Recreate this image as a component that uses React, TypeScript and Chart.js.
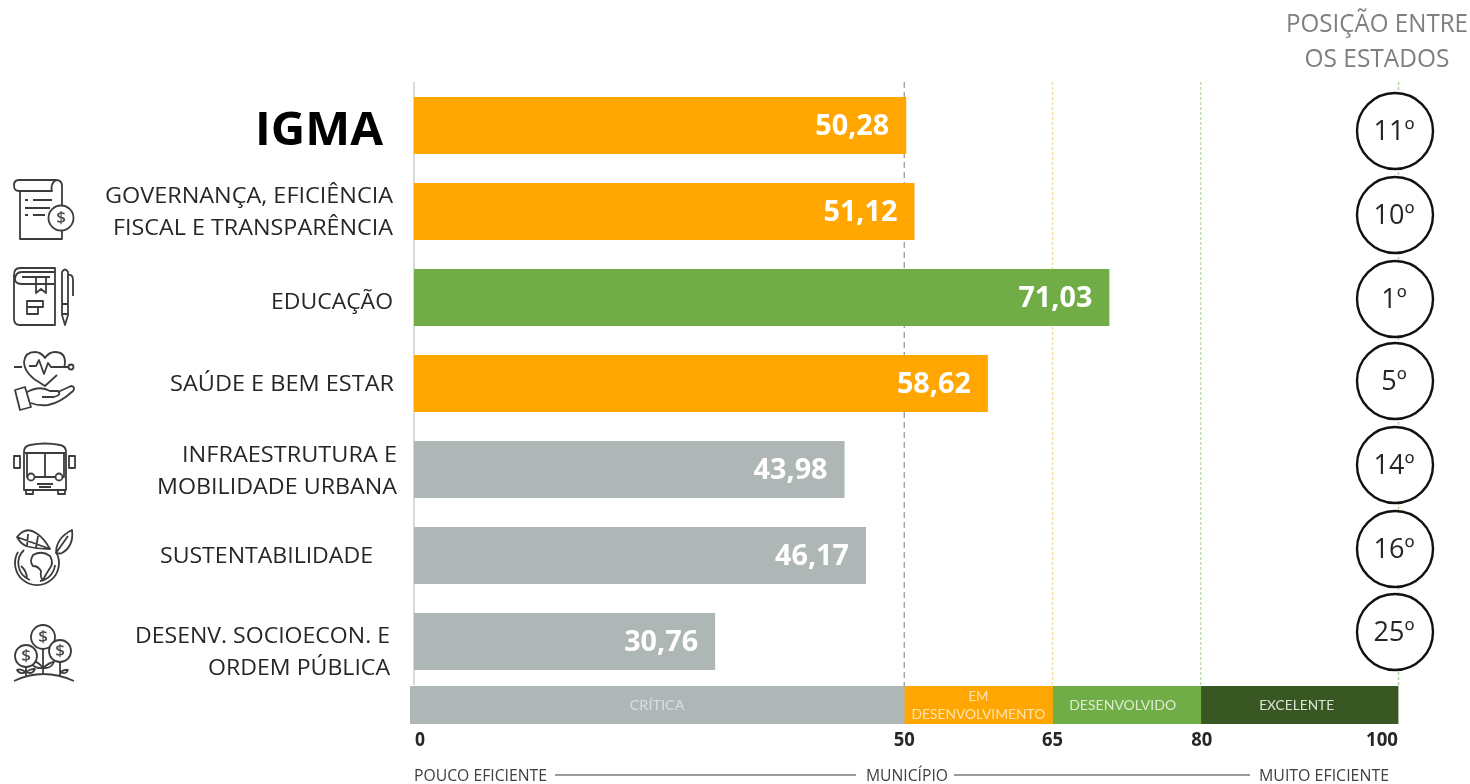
import React, { useEffect, useRef } from "react";
import { Chart, registerables } from "chart.js";

Chart.register(...registerables);

// ---------- data ----------
const categories = [
  "IGMA",
  "GOVERNANÇA, EFICIÊNCIA FISCAL E TRANSPARÊNCIA",
  "EDUCAÇÃO",
  "SAÚDE E BEM ESTAR",
  "INFRAESTRUTURA E MOBILIDADE URBANA",
  "SUSTENTABILIDADE",
  "DESENV. SOCIOECON. E ORDEM PÚBLICA",
];
const scores = [50.28, 51.12, 71.03, 58.62, 43.98, 46.17, 30.76];
const ranks = ["11º", "10º", "1º", "5º", "14º", "16º", "25º"];
const bandNames = ["CRÍTICA", "EM DESENVOLVIMENTO", "DESENVOLVIDO", "EXCELENTE"];
const bandWidths = [50, 15, 15, 20];
const scaleTicks = [0, 50, 65, 80, 100];

// ---------- styles ----------
const ORANGE = "#FFA700";
const GREEN = "#70AD47";
const GREY = "#AFB6B6";
const DARK = "#385723";
const bandColors = [GREY, ORANGE, GREEN, DARK];
const barColor = (v: number) => (v < 50 ? GREY : v < 65 ? ORANGE : v < 80 ? GREEN : DARK);
const gridColors: Record<number, string> = { 50: "#8f9494", 65: "#ecdf9a", 80: "#bcdcae", 100: "#a9d39a" };
const FONT = '"Open Sans", sans-serif';

// label lines, each [text, right edge, vertical centre, target width]
const labelLines: [string, number, number, number][] = [
  ["GOVERNANÇA, EFICIÊNCIA", 393, 196, 288],
  ["FISCAL E TRANSPARÊNCIA", 393, 228, 280],
  ["EDUCAÇÃO", 393, 302, 122],
  ["SAÚDE E BEM ESTAR", 394, 384, 224],
  ["INFRAESTRUTURA E", 397, 455, 215],
  ["MOBILIDADE URBANA", 397, 487, 240],
  ["SUSTENTABILIDADE", 373, 556, 213],
  ["DESENV. SOCIOECON. E", 390, 636, 255],
  ["ORDEM PÚBLICA", 390, 668, 182],
];
const rankCentres = [131, 215, 299, 381, 465, 549, 632];

function fitText(
  ctx: CanvasRenderingContext2D,
  text: string,
  x: number,
  y: number,
  align: "left" | "right" | "center",
  width: number,
  font: string,
  color: string
) {
  ctx.save();
  ctx.font = font;
  ctx.fillStyle = color;
  ctx.textBaseline = "middle";
  ctx.textAlign = "left";
  const w = ctx.measureText(text).width;
  const sx = width / w;
  const left = align === "left" ? x : align === "right" ? x - width : x - width / 2;
  ctx.translate(left, y + 2);
  ctx.scale(sx, 1);
  ctx.fillText(text, 0, 0);
  ctx.restore();
}

const iconPaths = [
  // scroll with coin
  "M20 191V239H62V231M62 205V186Q62 180 56 180H19Q14 180 14 185.5Q14 191 19 191H52Q50 184 56 180M25 200H28M33 200H52M25 208H50M25 215H28M33 215H45",
  // book and pen
  "M15 280Q15 272 22 272H55V268H20Q14 268 14 275V319Q14 325 20 325H55V272M15 280Q16 284 22 284H55M22 277H50M36 278V293L41 289L46 293V278M27 301H43V307H27ZM27 307V314H38V307M62 272Q65 267 68 272V315L65 325L62 315ZM62 304H68M62 314H68M68 275Q73 274 73 280V296",
  // heart on hand
  "M14 367H22M34 379Q24 371 24 362Q25 352 35 352Q41 352 45 358Q49 352 55 352Q65 352 65 362Q65 365 64 367M57 375L45 386L34 379M29 366H36L39 360L44 374L48 363L51 367H68M15 390L25 387L31 407L20 410ZM27 392Q40 385 50 391H58Q62 395 54 397H42M58 392L71 386Q76 387 73 391Q60 403 48 405Q38 406 31 403",
  // bus
  "M24 490V452Q24 446 30 445Q45 442 60 445Q66 446 66 452V490ZM25 453H65M27 453V477H64V453M45 453V477M14 456H20V468H14ZM69 456H75V468H69ZM26 490V494H33V490M58 490V494H65V490M37 484H53M39 487H51",
  // globe ring, earth and continents
  "M18 552A22 22 0 1 0 56 552M30 580A18 18 0 0 1 24 550M40 581A18 18 0 0 0 55 565M33 555Q42 550 50 556Q54 563 50 568Q46 574 43 580Q40 578 41 571Q38 566 33 566Q29 562 33 555ZM21 566Q27 571 27 579",
  // leaves
  "M17 537Q26 526 36 533Q44 538 50 549Q36 549 26 546Q20 543 17 537ZM17 537L50 549M28 534L27 546M38 536L36 548M56 553Q56 538 72 530Q74 546 62 553Q60 554 56 553ZM56 553L68 536",
  // coin plants
  "M14 681Q43 667 74 681M43 649V675M26 667V678M60 662V676M43 668Q36 659 30 662Q34 669 43 668ZM43 668Q50 662 54 662Q51 669 43 668ZM26 672Q20 668 17 670Q20 675 26 672ZM26 672Q32 668 35 669Q32 675 26 672ZM60 672Q66 669 68 670Q66 675 60 672Z",
];
const iconCircles: [number, number, number][] = [
  [61, 218, 12.5],
  [71, 367, 2.5],
  [31, 477, 3.5],
  [59, 477, 3.5],
  [43, 637, 12],
  [26, 656, 11],
  [60, 651, 11],
];
const dollars: [number, number][] = [[61, 218], [43, 637], [26, 656], [60, 651]];

function drawIcons(ctx: CanvasRenderingContext2D) {
  ctx.save();
  ctx.strokeStyle = "#3c3c3c";
  ctx.lineWidth = 1.8;
  ctx.lineJoin = "round";
  iconPaths.forEach((d) => ctx.stroke(new Path2D(d)));
  iconCircles.forEach(([x, y, r]) => {
    ctx.beginPath();
    ctx.arc(x, y, r, 0, Math.PI * 2);
    ctx.fillStyle = "#fff";
    ctx.fill();
    ctx.stroke();
  });
  ctx.fillStyle = "#4a4a4a";
  ctx.font = `600 17px ${FONT}`;
  ctx.textAlign = "center";
  ctx.textBaseline = "middle";
  dollars.forEach(([x, y]) => ctx.fillText("$", x, y));
  ctx.restore();
}

// rear chart: band strip, dashed reference lines, scale labels and captions
const bandPlugin = {
  id: "bandDecor",
  beforeDatasetsDraw(chart: any) {
    const { ctx, scales, chartArea } = chart;
    ctx.save();
    scaleTicks.slice(1).forEach((t) => {
      const x = scales.x.getPixelForValue(t);
      ctx.beginPath();
      ctx.setLineDash(t === 50 ? [6, 4] : [3, 2]);
      ctx.strokeStyle = gridColors[t];
      ctx.lineWidth = t === 50 ? 1.2 : 1.4;
      ctx.moveTo(x, 82);
      ctx.lineTo(x, chartArea.top);
      ctx.stroke();
    });
    ctx.restore();
  },
  afterDatasetsDraw(chart: any) {
    const { ctx, scales, chartArea } = chart;
    const x = scales.x;
    const cy = (chartArea.top + chartArea.bottom) / 2 - 2;
    let start = 0;
    const bandFont = `400 14px Lato, ${FONT}`;
    bandNames.forEach((name, i) => {
      const a = x.getPixelForValue(start);
      const b = x.getPixelForValue(start + bandWidths[i]);
      const mid = (a + b) / 2;
      start += bandWidths[i];
      if (name === "EM DESENVOLVIMENTO") {
        fitText(ctx, "EM", mid, cy - 9, "center", 20, bandFont, "#FFE3AE");
        fitText(ctx, "DESENVOLVIMENTO", mid, cy + 9, "center", 134, bandFont, "#FFE3AE");
      } else if (name === "CRÍTICA") {
        fitText(ctx, name, mid, cy, "center", 55, bandFont, "#DADEDE");
      } else if (name === "DESENVOLVIDO") {
        fitText(ctx, name, mid - 4, cy, "center", 107, bandFont, "#DCEBD2");
      } else {
        fitText(ctx, name, mid - 3, cy, "center", 75, bandFont, "#DCE3D6");
      }
    });
    // scale labels
    const boldTick = `700 19px ${FONT}`;
    const tickY = 739;
    scaleTicks.forEach((t) => {
      const s = String(t);
      const px = x.getPixelForValue(t);
      if (t === 0) fitText(ctx, s, 415, tickY, "left", 10, boldTick, "#262626");
      else if (t === 100) fitText(ctx, s, 1398, tickY, "right", 32, boldTick, "#262626");
      else fitText(ctx, s, px + (t === 80 ? 1 : 0), tickY, "center", 21, boldTick, "#262626");
    });
    // captions
    const cap = `400 17px ${FONT}`;
    const capY = 774;
    fitText(ctx, "POUCO EFICIENTE", 414, capY, "left", 133, cap, "#404040");
    fitText(ctx, "MUNICÍPIO", 866, capY, "left", 82, cap, "#404040");
    fitText(ctx, "MUITO EFICIENTE", 1259, capY, "left", 130, cap, "#404040");
    ctx.strokeStyle = "#7a7a7a";
    ctx.lineWidth = 1.5;
    [[555, 856], [954, 1250]].forEach(([a, b]) => {
      ctx.beginPath();
      ctx.moveTo(a, 775);
      ctx.lineTo(b, 775);
      ctx.stroke();
    });
  },
};

// front chart: row labels, value labels, rank circles, icons
const rowPlugin = {
  id: "rowDecor",
  afterDatasetsDraw(chart: any) {
    const { ctx } = chart;
    const meta = chart.getDatasetMeta(0);
    meta.data.forEach((el: any, i: number) => {
      const text = scores[i].toFixed(2).replace(".", ",");
      fitText(ctx, text, el.x - 17, el.y - 1, "right", 74, `700 29px ${FONT}`, "#FFFFFF");
    });
    fitText(ctx, categories[0], 383, 130, "right", 128, `700 46px ${FONT}`, "#000000");
    labelLines.forEach(([t, x, y, w]) => fitText(ctx, t, x, y - 1, "right", w, `400 22px ${FONT}`, "#262626"));

    ctx.save();
    ranks.forEach((r, i) => {
      const cy = rankCentres[i];
      ctx.beginPath();
      ctx.arc(1395, cy, 38, 0, Math.PI * 2);
      ctx.fillStyle = "#fff";
      ctx.fill();
      ctx.strokeStyle = "#111";
      ctx.lineWidth = 2.4;
      ctx.stroke();
      ctx.font = `400 27px ${FONT}`;
      ctx.fillStyle = "#262626";
      ctx.textAlign = "center";
      ctx.textBaseline = "middle";
      ctx.fillText(r, 1394, cy + 1);
    });
    ctx.restore();

    fitText(ctx, "POSIÇÃO ENTRE", 1377, 23, "center", 182, `400 25px ${FONT}`, "#7F7F7F");
    fitText(ctx, "OS ESTADOS", 1377, 58, "center", 145, `400 25px ${FONT}`, "#7F7F7F");
    drawIcons(ctx);
  },
};

export default function App() {
  const rear = useRef<HTMLCanvasElement>(null);
  const front = useRef<HTMLCanvasElement>(null);

  useEffect(() => {
    document.body.style.margin = "0";
    const bandChart = new Chart(rear.current!, {
      type: "bar",
      data: {
        labels: ["faixas"],
        datasets: bandNames.map((name, i) => ({
          label: name,
          data: [bandWidths[i]],
          backgroundColor: bandColors[i],
          borderWidth: 0,
          barPercentage: 1,
          categoryPercentage: 1,
          borderSkipped: false,
        })),
      },
      options: {
        animation: false,
        responsive: false,
        indexAxis: "y",
        layout: { padding: { left: 410, right: 71.5, top: 686, bottom: 60 } },
        plugins: { legend: { display: false }, tooltip: { enabled: false } },
        scales: {
          x: { display: false, stacked: true, min: 0, max: 100 },
          y: { display: false, stacked: true },
        },
      },
      plugins: [bandPlugin],
    } as any);

    const barChart = new Chart(front.current!, {
      type: "bar",
      data: {
        labels: categories,
        datasets: [
          {
            label: "IGMA",
            data: scores,
            backgroundColor: scores.map(barColor),
            borderWidth: 0,
            barPercentage: 0.665,
            categoryPercentage: 1,
          },
        ],
      },
      options: {
        animation: false,
        responsive: false,
        indexAxis: "y",
        layout: { padding: { left: 414, right: 77, top: 82.5, bottom: 99.5 } },
        plugins: { legend: { display: false }, tooltip: { enabled: false } },
        scales: {
          x: { display: false, min: 0, max: 100 },
          y: {
            grid: { display: false, drawTicks: false },
            ticks: { display: false },
            border: { display: true, color: "#d9d9d9", width: 2 },
            afterFit: (s: any) => {
              s.width = 0;
            },
          },
        },
      },
      plugins: [rowPlugin],
    } as any);

    return () => {
      bandChart.destroy();
      barChart.destroy();
    };
  }, []);

  const style: React.CSSProperties = { position: "absolute", left: 0, top: 0, width: 1470, height: 784 };
  return (
    <div style={{ position: "relative", width: 1470, height: 784, background: "#fff", overflow: "hidden" }}>
      <canvas ref={rear} width={1470} height={784} style={style} />
      <canvas ref={front} width={1470} height={784} style={style} />
    </div>
  );
}
